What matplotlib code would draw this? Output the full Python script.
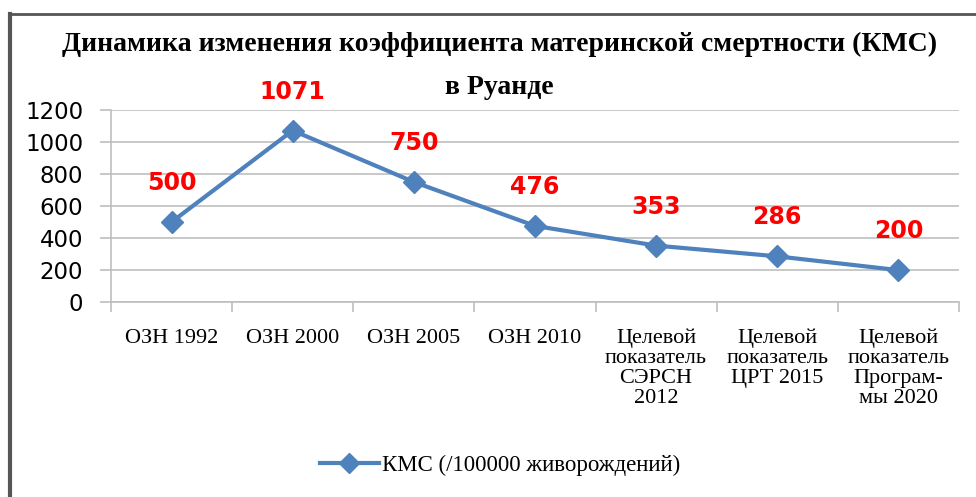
import matplotlib
matplotlib.use('Agg')
import matplotlib.pyplot as plt
from matplotlib.lines import Line2D

# данные
categories = ['ОЗН 1992', 'ОЗН 2000', 'ОЗН 2005', 'ОЗН 2010',
              'Целевой\nпоказатель\nСЭРСН\n2012',
              'Целевой\nпоказатель\nЦРТ 2015',
              'Целевой\nпоказатель\nПрограм-\nмы 2020']
kms = [500, 1071, 750, 476, 353, 286, 200]
y_ticks = [0, 200, 400, 600, 800, 1000, 1200]

title_line1 = 'Динамика изменения коэффициента материнской смертности (КМС)'
title_line2 = 'в Руанде'
legend_label = 'КМС (/100000 живорождений)'

blue = '#4F81BD'
grid_col = '#BFBFBF'

fig = plt.figure(figsize=(9.76, 4.97), dpi=100)
ax = fig.add_axes([0.1137, 0.392, 0.8688, 0.387])

x = list(range(len(categories)))
ax.plot(x, kms, color=blue, lw=3, marker='D', ms=11, zorder=3)

for xi, v in zip(x, kms):
    ax.annotate(str(v), (xi, v), xytext=(0, 28), textcoords='offset points',
                ha='center', va='center', color='#FF0000',
                fontsize=17, fontweight='bold', family='DejaVu Sans')

ax.set_xlim(-0.5, len(categories) - 0.5)
ax.set_ylim(0, 1200)
ax.set_yticks(y_ticks)
ax.set_yticklabels([str(t) for t in y_ticks], fontsize=16.5, family='DejaVu Sans')
ax.yaxis.grid(True, color=grid_col, lw=1.2)
ax.set_axisbelow(True)

# подписи категорий между делениями
ax.set_xticks([i - 0.5 for i in range(len(categories) + 1)])
ax.set_xticklabels([])
ax.set_xticks(x, minor=True)
ax.set_xticklabels(categories, minor=True, fontsize=16,
                   family='Liberation Serif', linespacing=1.07, va='top')
ax.tick_params(axis='x', which='minor', length=0, pad=19)
ax.tick_params(axis='x', which='major', length=7, color=grid_col, width=1.2)
ax.tick_params(axis='y', length=8, color=grid_col, width=1.2, pad=12)

for s in ['top', 'right']:
    ax.spines[s].set_visible(False)
ax.spines['left'].set_color(grid_col)
ax.spines['bottom'].set_color(grid_col)
ax.spines['left'].set_linewidth(1.2)
ax.spines['bottom'].set_linewidth(1.2)

fig.text(0.512, 0.911, title_line1, ha='center', va='center', fontsize=20,
         fontweight='bold', family='Liberation Serif')
fig.text(0.512, 0.823, title_line2, ha='center', va='center', fontsize=20,
         fontweight='bold', family='Liberation Serif')

handle = Line2D([], [], color=blue, lw=3, marker='D', ms=10)
fig.legend([handle], [legend_label], loc='center', bbox_to_anchor=(0.512, 0.064),
           frameon=False, prop={'family': 'Liberation Serif', 'size': 16.5},
           handlelength=2.6, handletextpad=0.1)

# рамка диаграммы
fig.add_artist(Line2D([0.0105, 0.0105], [0, 0.972], color='#555555', lw=3,
                      transform=fig.transFigure))
fig.add_artist(Line2D([0.0105, 1.0], [0.972, 0.972], color='#555555', lw=2,
                      transform=fig.transFigure))

plt.savefig('out.png', dpi=100)
